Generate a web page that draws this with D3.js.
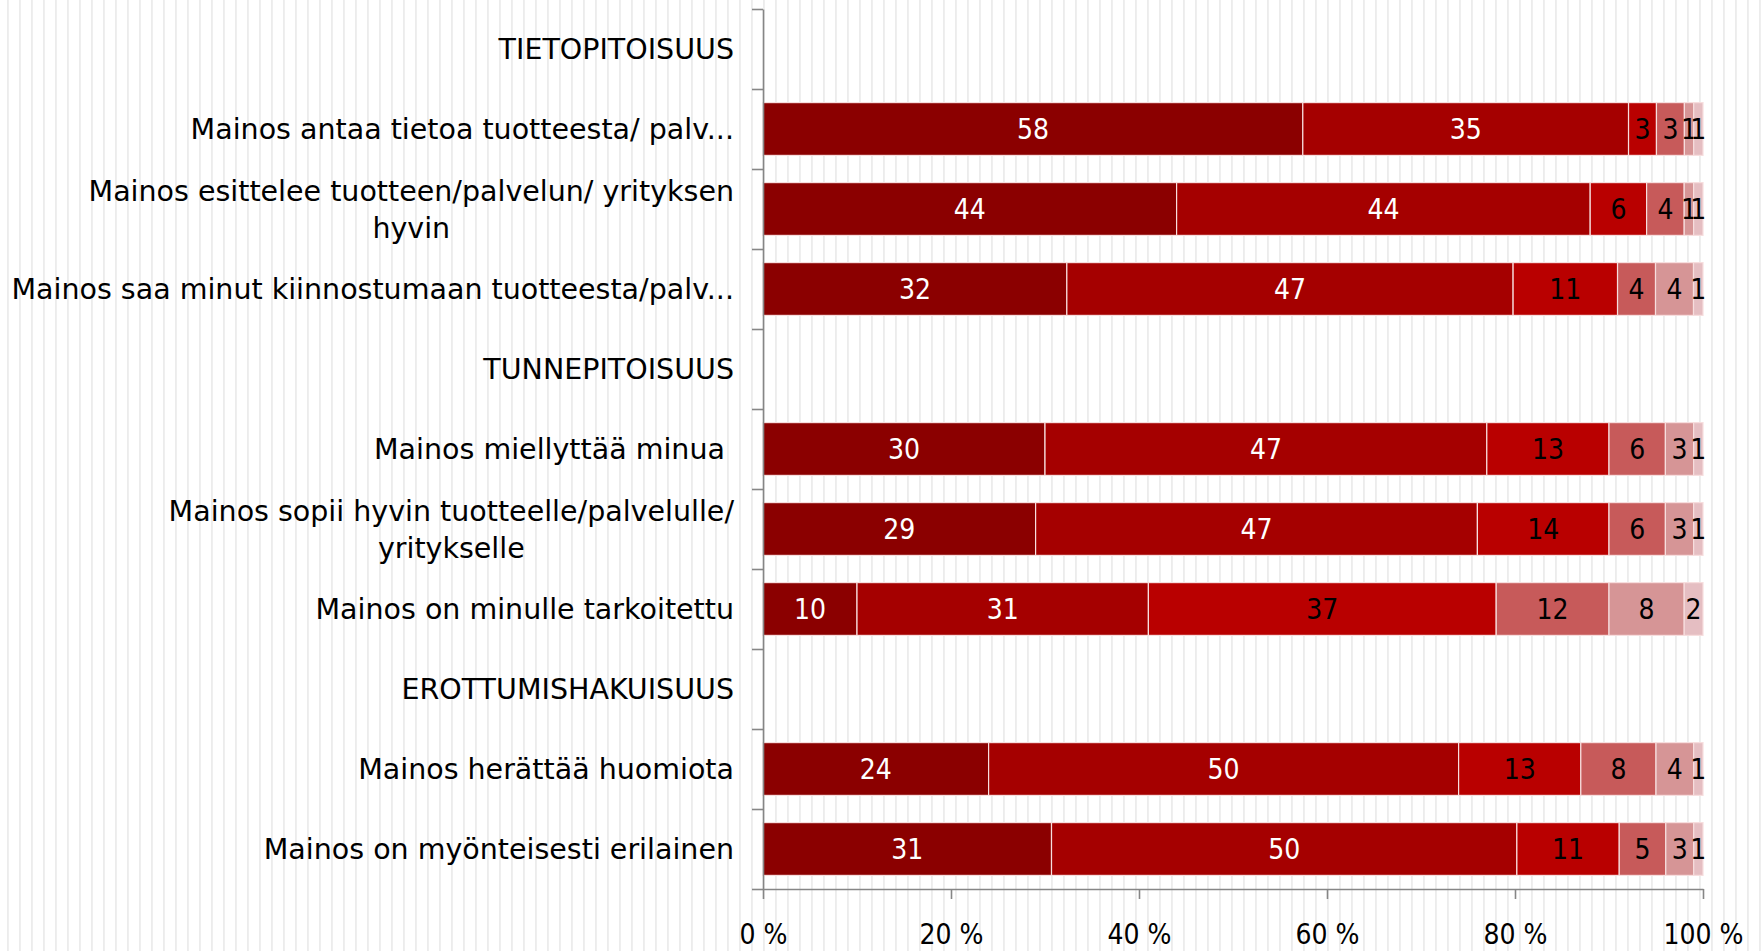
<!DOCTYPE html>
<html>
<head>
<meta charset="utf-8">
<script src="https://cdn.jsdelivr.net/npm/d3@7"></script>
<style>
  body { margin: 0; background: #fff; }
  svg { display: block; font-family: "DejaVu Sans Condensed", "DejaVu Sans", sans-serif; }
</style>
</head>
<body>
<svg id="chart" width="1761" height="951"></svg>
<script>
// rows of the chart, "\n" = wrapped label
const categories = [
  "TIETOPITOISUUS",
  "Mainos antaa tietoa tuotteesta/ palv...",
  "Mainos esittelee tuotteen/palvelun/ yrityksen\nhyvin",
  "Mainos saa minut kiinnostumaan tuotteesta/palv...",
  "TUNNEPITOISUUS",
  "Mainos miellyttää minua ",
  "Mainos sopii hyvin tuotteelle/palvelulle/\nyritykselle",
  "Mainos on minulle tarkoitettu",
  "EROTTUMISHAKUISUUS",
  "Mainos herättää huomiota",
  "Mainos on myönteisesti erilainen"
];
// null = heading row, no bar
const serie1 = [null, 58, 44, 32, null, 30, 29, 10, null, 24, 31];
const serie2 = [null, 35, 44, 47, null, 47, 47, 31, null, 50, 50];
const serie3 = [null, 3, 6, 11, null, 13, 14, 37, null, 13, 11];
const serie4 = [null, 3, 4, 4, null, 6, 6, 12, null, 8, 5];
const serie5 = [null, 1, 1, 4, null, 3, 3, 8, null, 4, 3];
const serie6 = [null, 1, 1, 1, null, 1, 1, 2, null, 1, 1];
const xTicks = [0, 0.2, 0.4, 0.6, 0.8, 1];

const series = [serie1, serie2, serie3, serie4, serie5, serie6];
const colors = ["#8b0000", "#a50000", "#b90000", "#c75a5a", "#d69596", "#e5bec2"];
const textColors = ["#fff", "#fff", "#000", "#000", "#000", "#000"];

const W = 1761, H = 951;
const plot = { left: 763, right: 1703, top: 9, bottom: 889 };
const svg = d3.select('#chart');

// faint striped background
const defs = svg.append('defs');
const pat = defs.append('pattern')
  .attr('id', 'stripes')
  .attr('patternUnits', 'userSpaceOnUse')
  .attr('x', 7).attr('y', 0)
  .attr('width', 12).attr('height', 20);
pat.append('rect').attr('width', 12).attr('height', 20).attr('fill', '#fff');
pat.append('rect').attr('width', 1.8).attr('height', 20).attr('fill', '#ececec');
svg.append('rect').attr('width', W).attr('height', H).attr('fill', 'url(#stripes)');

const x = d3.scaleLinear().domain([0, 1]).range([plot.left, plot.right]);
const y = d3.scaleBand().domain(categories).range([plot.top, plot.bottom])
  .paddingInner(0.34).paddingOuter(0.17);
const yEdge = d3.scaleLinear().domain([0, categories.length]).range([plot.top, plot.bottom]);

const rows = categories.map((c, i) => {
  const r = { cat: c };
  series.forEach((s, k) => r[k] = s[i] || 0);
  return r;
});
const stacked = d3.stack().keys(d3.range(series.length)).offset(d3.stackOffsetExpand)(rows);

// BARS
const layers = svg.append('g')
  .selectAll('g')
  .data(stacked)
  .enter().append('g')
  .attr('fill', (d, k) => colors[k]);

layers.selectAll('rect')
  .data(d => d.filter((p, i) => series[d.key][i] != null))
  .enter().append('rect')
  .attr('x', d => x(d[0]))
  .attr('y', d => y(d.data.cat))
  .attr('width', d => x(d[1]) - x(d[0]))
  .attr('height', y.bandwidth())
  .attr('stroke', '#f7dede')
  .attr('stroke-width', 1.2);

// VALUE LABELS
layers.each(function (layer, k) {
  d3.select(this).selectAll('text')
    .data(layer.map((p, i) => ({ p, v: series[k][i] })).filter(d => d.v != null))
    .enter().append('text')
    .attr('x', d => x((d.p[0] + d.p[1]) / 2))
    .attr('y', d => y(d.p.data.cat) + y.bandwidth() / 2)
    .attr('dy', '0.36em')
    .attr('text-anchor', 'middle')
    .attr('font-size', 28)
    .attr('fill', textColors[k])
    .text(d => d.v);
});

// AXES
const axisColor = '#868686';
const yAxis = svg.append('g')
  .attr('transform', `translate(${plot.left},0)`)
  .call(d3.axisLeft(yEdge)
    .tickValues(d3.range(categories.length + 1))
    .tickSize(11).tickSizeOuter(0).tickFormat(''));

const xAxis = svg.append('g')
  .attr('transform', `translate(0,${plot.bottom})`)
  .call(d3.axisBottom(x)
    .tickValues(xTicks)
    .tickSize(10).tickSizeOuter(0).tickPadding(25)
    .tickFormat(d => Math.round(d * 100) + ' %'));

[yAxis, xAxis].forEach(a => {
  a.selectAll('path, line').attr('stroke', axisColor).attr('stroke-width', 1.6);
});
xAxis.selectAll('text')
  .attr('font-size', 28)
  .attr('font-family', '"DejaVu Sans Condensed", "DejaVu Sans", sans-serif')
  .attr('fill', '#000');

// CATEGORY LABELS
const labelRight = 734, lineH = 37;
const labels = svg.append('g')
  .attr('font-size', 28.5)
  .attr('font-family', '"DejaVu Sans", sans-serif')
  .attr('fill', '#000');

categories.forEach(c => {
  const lines = c.split('\n');
  const cy = y(c) + y.bandwidth() / 2;
  const t = labels.append('text')
    .attr('xml:space', 'preserve')
    .attr('text-anchor', 'middle');
  lines.forEach((l, i) => {
    t.append('tspan')
      .attr('y', cy + (i - (lines.length - 1) / 2) * lineH)
      .attr('dy', '0.36em')
      .text(l);
  });
  // lines centred on each other, block right aligned
  const w = d3.max(t.selectAll('tspan').nodes(), n => n.getComputedTextLength());
  t.selectAll('tspan').attr('x', labelRight - w / 2);
});
</script>
</body>
</html>
